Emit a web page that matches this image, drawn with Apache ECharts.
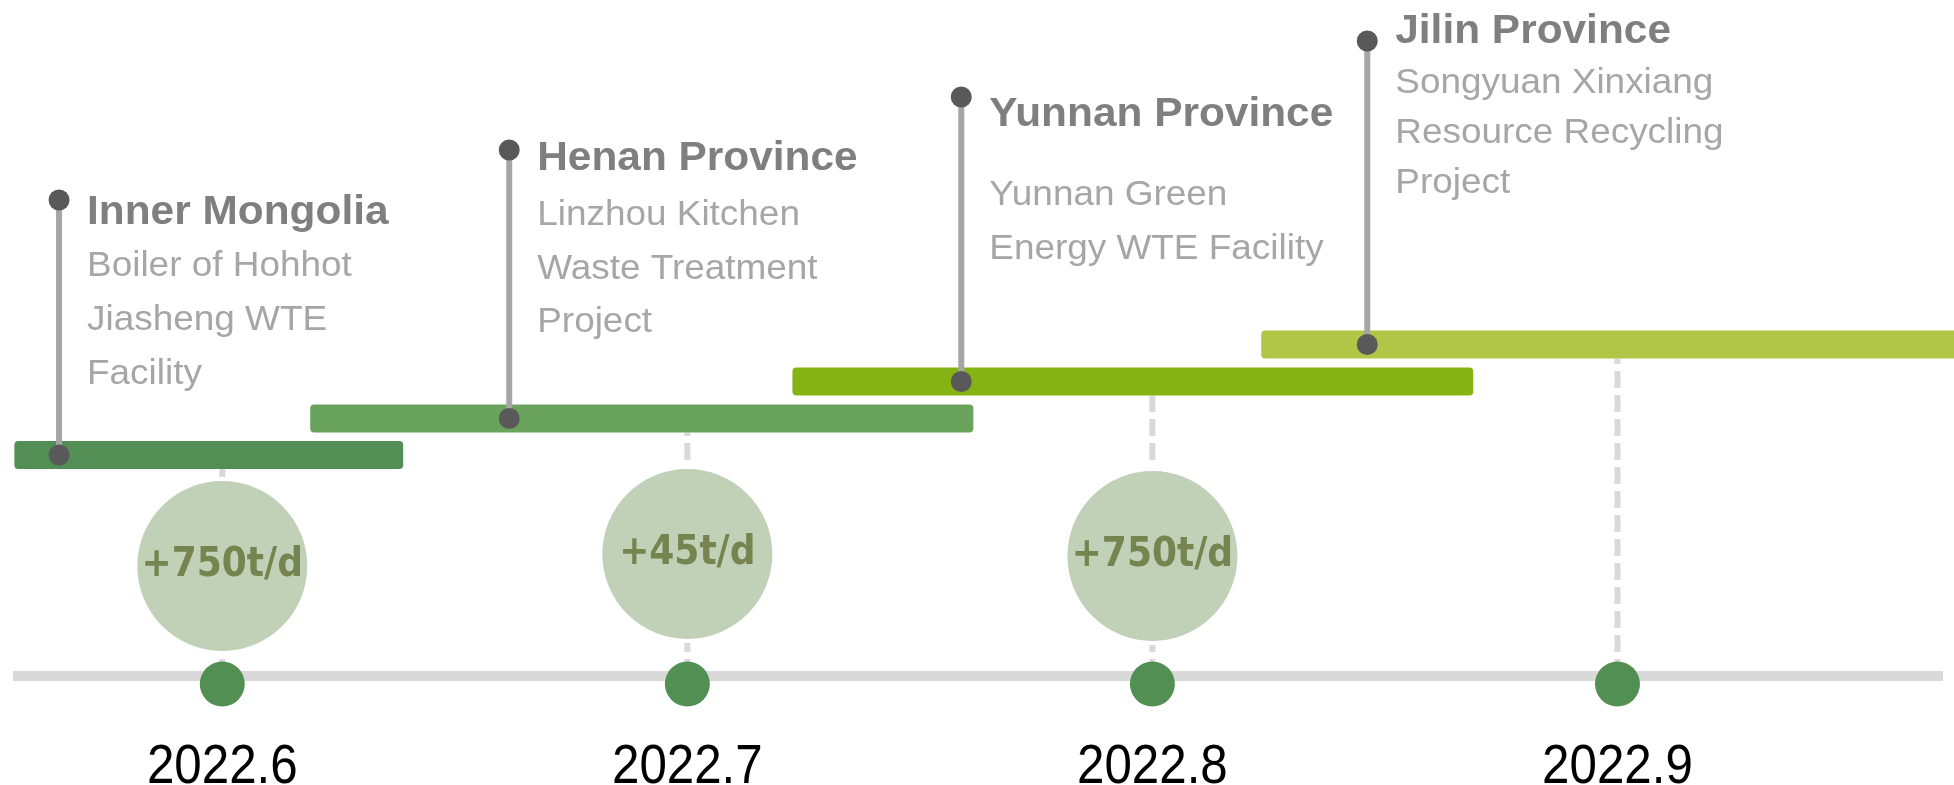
<!DOCTYPE html>
<html>
<head>
<meta charset="utf-8">
<title>Capacity timeline</title>
<script src="https://cdn.jsdelivr.net/npm/echarts@6/dist/echarts.min.js"></script>
<style>
html, body { margin: 0; padding: 0; background: #fff; }
#chart { width: 1954px; height: 785px; }
</style>
</head>
<body>
<div id="chart"></div>
<script>
// timeline months, x = 0, 1, 2, 3
const months = ['2022.6', '2022.7', '2022.8', '2022.9'];
// capacity added per month (nothing shown for 2022.9)
const capacityAdded = ['+750t/d', '+45t/d', '+750t/d', null];
const bubbleLevel = [11.0, 12.2, 12.0, null];

// projects: bar span in month units, lane height, pin position and pin height
const provinces = ['Inner Mongolia', 'Henan Province', 'Yunnan Province', 'Jilin Province'];
const projects = [
  ['Boiler of Hohhot', 'Jiasheng WTE', 'Facility'],
  ['Linzhou Kitchen', 'Waste Treatment', 'Project'],
  ['Yunnan Green', 'Energy WTE Facility'],
  ['Songyuan Xinxiang', 'Resource Recycling', 'Project']
];
const barStart = [-0.447, 0.189, 1.226, 2.234];
const barEnd = [0.389, 1.615, 2.69, 3.8];
const barLane = [22.1, 25.75, 29.45, 33.15];
const pinAt = [-0.351, 0.617, 1.589, 2.462];
const pinTop = [47.6, 52.6, 57.9, 63.5];

const barColors = ['#538f54', '#6aa45c', '#86b314', '#b1c647'];
const BAR_HEIGHT = 28;
// label layout below the pin head: [title baseline, first detail baseline, detail line gap]
const labelNudge = [[26.5, 78, 54], [22.5, 77.5, 53.5], [31.5, 110.5, 53.5], [4.5, 54, 50]];

const chart = echarts.init(document.getElementById('chart'));

function guideItem(params, api) {
  const bottom = api.coord([api.value(0), 0]);
  const top = api.coord([api.value(0), api.value(1)]);
  return {
    type: 'line',
    shape: { x1: bottom[0], y1: bottom[1], x2: top[0], y2: top[1] + BAR_HEIGHT / 2 },
    style: { stroke: '#d9d9d9', lineWidth: 6, lineDash: [17, 7] }
  };
}

function barItem(params, api) {
  const start = api.coord([api.value(0), api.value(2)]);
  const end = api.coord([api.value(1), api.value(2)]);
  return {
    type: 'rect',
    shape: {
      x: start[0],
      y: start[1] - BAR_HEIGHT / 2,
      width: end[0] - start[0],
      height: BAR_HEIGHT,
      r: 4
    },
    style: { fill: barColors[params.dataIndex] }
  };
}

function bubbleItem(params, api) {
  const c = api.coord([api.value(0), api.value(1)]);
  return {
    type: 'group',
    children: [
      {
        type: 'circle',
        shape: { cx: c[0], cy: c[1], r: 87 },
        style: { fill: '#c0d1b7', stroke: '#fff', lineWidth: 4 }
      },
      {
        type: 'text',
        x: c[0],
        y: c[1],
        style: {
          text: capacityAdded[api.value(0)],
          fill: '#76844f',
          font: 'bold 40px "DejaVu Sans Condensed", "DejaVu Sans", sans-serif',
          align: 'center',
          verticalAlign: 'middle'
        }
      }
    ]
  };
}

// month labels under the axis, narrow like the original
function monthItem(params, api) {
  const p = api.coord([api.value(0), 0]);
  return {
    type: 'text',
    x: p[0],
    y: p[1] + 64,
    scaleX: 0.88,
    style: {
      text: months[api.value(0)],
      fill: '#000',
      font: '56px "Liberation Sans", Arial, sans-serif',
      align: 'center',
      verticalAlign: 'top'
    }
  };
}

function pinItem(params, api) {
  const i = params.dataIndex;
  const base = api.coord([api.value(0), api.value(1)]);
  const head = api.coord([api.value(0), api.value(2)]);
  const tx = head[0] + 28;
  const titleBase = head[1] + labelNudge[i][0];
  const detailBase = head[1] + labelNudge[i][1];
  const gap = labelNudge[i][2];
  return {
    type: 'group',
    children: [
      {
        type: 'line',
        shape: { x1: base[0], y1: base[1], x2: head[0], y2: head[1] },
        style: { stroke: '#a6a6a6', lineWidth: 6 }
      },
      { type: 'circle', shape: { cx: base[0], cy: base[1], r: 10.5 }, style: { fill: '#595959' } },
      { type: 'circle', shape: { cx: head[0], cy: head[1], r: 10.5 }, style: { fill: '#595959' } },
      {
        type: 'text',
        x: tx,
        y: titleBase - 0.3465 * 40,
        scaleX: 1.06,
        style: {
          text: provinces[i],
          fill: '#7f7f7f',
          font: 'bold 40px "Liberation Sans", Arial, sans-serif',
          align: 'left',
          verticalAlign: 'middle'
        }
      },
      {
        type: 'text',
        x: tx,
        y: detailBase - gap / 2 - 0.3465 * 34.5,
        scaleX: 1.07,
        style: {
          text: projects[i].join('\n'),
          fill: '#a6a6a6',
          font: '34.5px "Liberation Sans", Arial, sans-serif',
          lineHeight: gap,
          align: 'left',
          verticalAlign: 'top'
        }
      }
    ]
  };
}

const option = {
  animation: false,
  backgroundColor: '#fff',
  grid: { left: 13, right: 11, top: 0, bottom: 0, containLabel: false, outerBoundsMode: 'none' },
  xAxis: {
    type: 'value',
    min: -0.45,
    max: 3.7,
    axisLine: { show: true, onZero: true, lineStyle: { color: '#d9d9d9', width: 10, cap: 'butt' } },
    axisTick: { show: false },
    splitLine: { show: false },
    axisLabel: { show: false }
  },
  yAxis: { type: 'value', min: -10.9, max: 67.6, show: false },
  series: [
    {
      type: 'custom',
      renderItem: guideItem,
      z: 1,
      data: months.map((m, i) => [i, barLane[i]])
    },
    {
      type: 'custom',
      renderItem: barItem,
      clip: false,
      z: 2,
      data: provinces.map((p, i) => [barStart[i], barEnd[i], barLane[i]])
    },
    {
      type: 'custom',
      renderItem: bubbleItem,
      z: 3,
      data: months.map((m, i) => [i, bubbleLevel[i]]).filter((d, i) => capacityAdded[i])
    },
    {
      type: 'scatter',
      symbol: 'circle',
      symbolSize: 45,
      symbolOffset: [0, 8],
      itemStyle: { color: '#528f53', opacity: 1 },
      z: 4,
      data: months.map((m, i) => [i, 0])
    },
    {
      type: 'custom',
      renderItem: monthItem,
      clip: false,
      z: 4,
      data: months.map((m, i) => [i])
    },
    {
      type: 'custom',
      renderItem: pinItem,
      clip: false,
      z: 5,
      data: provinces.map((p, i) => [pinAt[i], barLane[i], pinTop[i]])
    }
  ]
};

chart.setOption(option);
</script>
</body>
</html>
